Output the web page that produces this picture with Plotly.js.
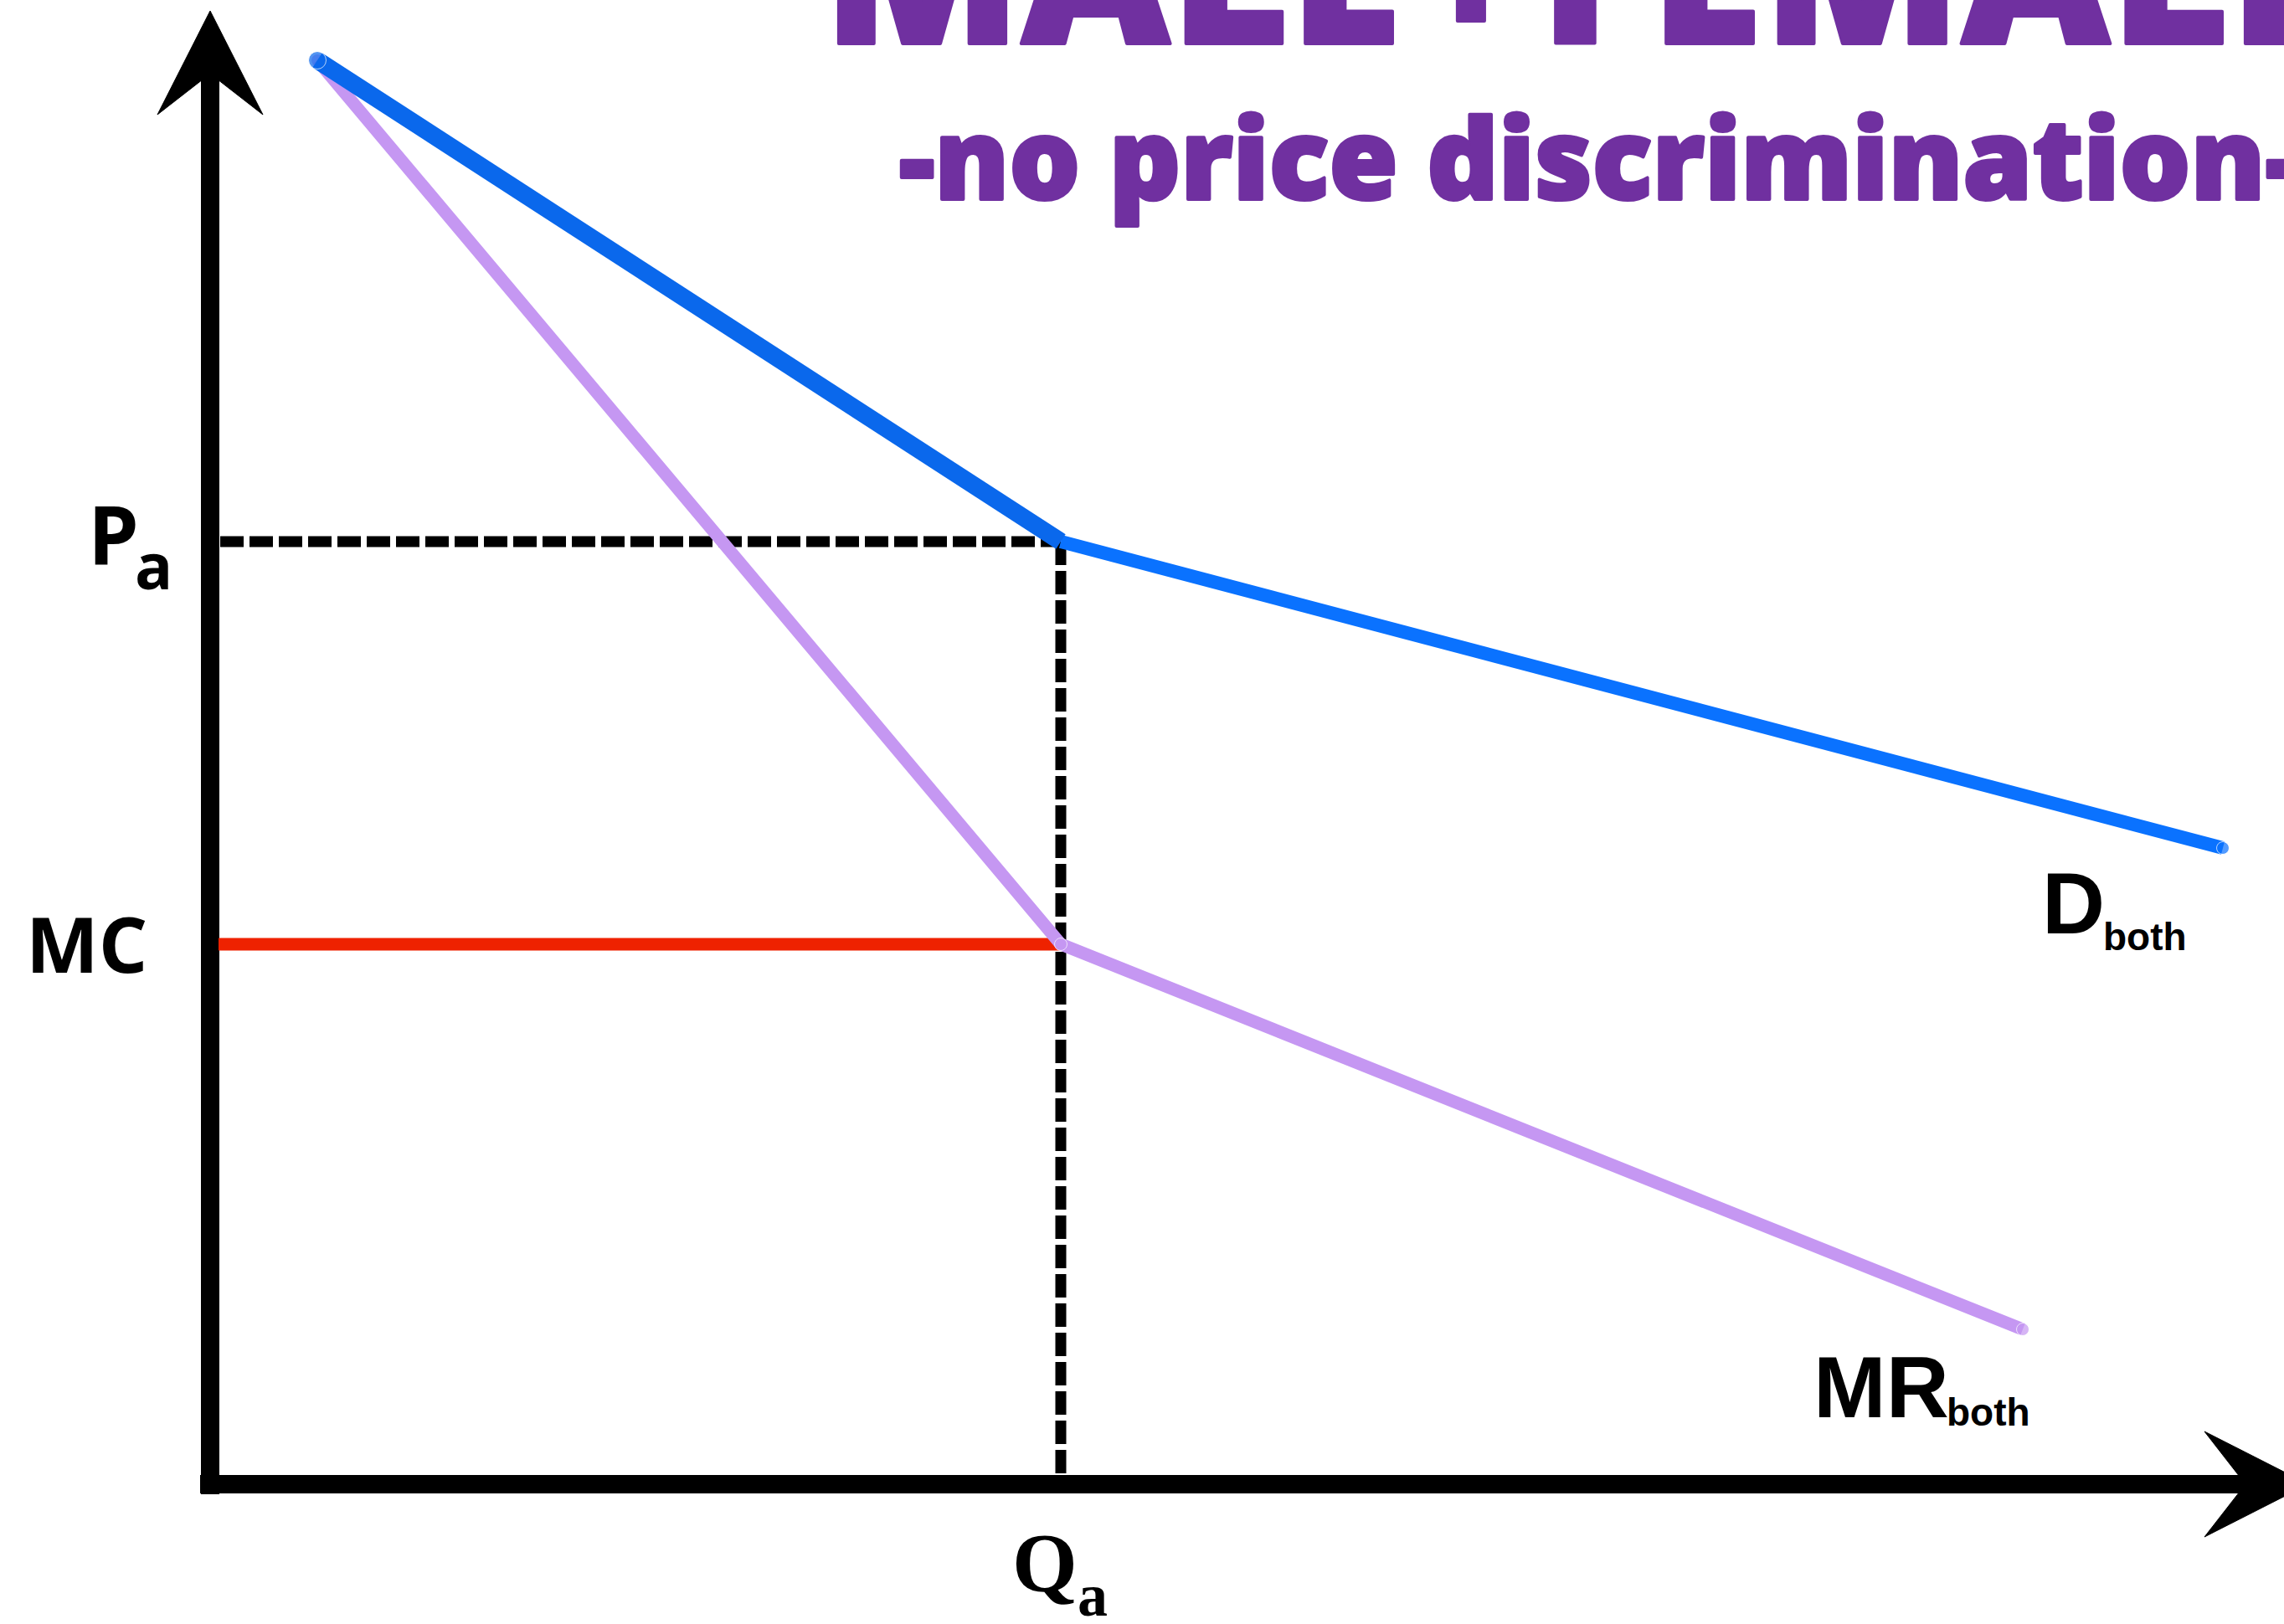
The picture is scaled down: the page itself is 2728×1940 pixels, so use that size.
<!DOCTYPE html>
<html>
<head>
<meta charset="utf-8">
<script src="https://cdn.plot.ly/plotly-3.0.1.min.js"></script>
<style>
html,body{margin:0;padding:0;background:#fff;}
#chart{width:2728px;height:1940px;}
g.annotation[data-index="0"] text, g.annotation[data-index="1"] text {
  stroke:#7030a0; stroke-width:4px; stroke-linejoin:round; paint-order:stroke;
}
</style>
</head>
<body>
<div id="chart"></div>
<script>
// ---- chart values (arbitrary economic units) ----
const demandQ = [1.28, 10.16, 24.04];
const demandP = [17.01, 11.26, 7.60];
const mrQ = [1.28, 10.16, 21.65];
const mrP = [17.01, 6.45, 1.85];
const Pa = 11.26;
const Qa = 10.16;
const MC = 6.45;
const axisStart = -0.12;
const xAxisTip = 25.06;
const yAxisTip = 17.60;

const titleWords = ["MALE", "+", "FEMALE"];
const subtitleText = "-no price discrimination-";
const curveLabels = {D: "D", MR: "MR", sub: "both"};
const axisLabels = {P: "P", MC: "MC", Q: "Q", sub: "a"};

// ---- styles ----
const BLUE_TOP = "#0a68ec";
const BLUE_LOW = "#0a72ff";
const LAV = "#c597f2";
const RED = "#ee2200";
const PURPLE = "#7030a0";

const headLen = 1.24, headHalf = 0.63, headNotch = 0.75;

function arrowHead(tipX, tipY, dir) {
  if (dir === 'up') {
    return {
      x: [tipX, tipX + headHalf, tipX, tipX - headHalf, tipX],
      y: [tipY, tipY - headLen, tipY - headNotch, tipY - headLen, tipY]
    };
  }
  return {
    x: [tipX, tipX - headLen, tipX - headNotch, tipX - headLen, tipX],
    y: [tipY, tipY + headHalf, tipY, tipY - headHalf, tipY]
  };
}
const upHead = arrowHead(0, yAxisTip, 'up');
const rightHead = arrowHead(xAxisTip, 0, 'right');

const DASH = '28px,7px';

const traces = [
  // axes
  {x: [0, 0], y: [axisStart, yAxisTip - headNotch + 0.05], mode: 'lines',
   line: {color: '#000', width: 22}, hoverinfo: 'skip'},
  {x: [axisStart, xAxisTip - headNotch + 0.05], y: [0, 0], mode: 'lines',
   line: {color: '#000', width: 22}, hoverinfo: 'skip'},
  {x: upHead.x, y: upHead.y, mode: 'lines', fill: 'toself', fillcolor: '#000',
   line: {color: '#000', width: 1}, hoverinfo: 'skip'},
  {x: rightHead.x, y: rightHead.y, mode: 'lines', fill: 'toself', fillcolor: '#000',
   line: {color: '#000', width: 1}, hoverinfo: 'skip'},
  // dashed guides
  {x: [0.12, Qa], y: [Pa, Pa], mode: 'lines',
   line: {color: '#000', width: 13, dash: DASH}, hoverinfo: 'skip'},
  {x: [Qa, Qa], y: [Pa, 0.1], mode: 'lines',
   line: {color: '#000', width: 13, dash: DASH}, hoverinfo: 'skip'},
  // MC
  {x: [0.1, Qa], y: [MC, MC], mode: 'lines',
   line: {color: RED, width: 15}, hoverinfo: 'skip'},
  // MR
  {x: mrQ, y: mrP, mode: 'lines+markers',
   line: {color: LAV, width: 15},
   marker: {color: LAV, size: [15, 15, 15]}, hoverinfo: 'skip'},
  // Demand (two segments with different widths)
  {x: demandQ.slice(1), y: demandP.slice(1), mode: 'lines+markers',
   line: {color: BLUE_LOW, width: 16},
   marker: {color: BLUE_LOW, size: [0, 15]}, hoverinfo: 'skip'},
  {x: demandQ.slice(0, 2), y: demandP.slice(0, 2), mode: 'lines+markers',
   line: {color: BLUE_TOP, width: 21},
   marker: {color: BLUE_TOP, size: [21, 0]}, hoverinfo: 'skip'}
];

const sansBold = {family: 'Open Sans, Liberation Sans, sans-serif', color: '#000', weight: 700};
const narrowBold = {family: 'Liberation Sans Narrow, Liberation Sans, Arial, sans-serif', color: '#000', weight: 700};
const serifBold = {family: 'Liberation Serif, DejaVu Serif, serif', color: '#000', weight: 700};

function ann(text, x, y, font, size, xanchor) {
  return {text: text, x: x, y: y, xref: 'x', yref: 'y',
    showarrow: false, xanchor: xanchor, yanchor: 'middle',
    font: Object.assign({}, font, {size: size})};
}

const thinSpace = '<span style="font-size:40px"> </span>';
const titleHTML = titleWords.join(thinSpace);

const annotations = [
  // title
  {text: titleHTML, x: 0.3595, y: 1.0222, xref: 'paper', yref: 'paper', showarrow: false,
   xanchor: 'left', yanchor: 'middle',
   font: {family: 'Open Sans, sans-serif', size: 245, color: PURPLE, weight: 800}},
  {text: subtitleText, x: 0.393, y: 0.9038, xref: 'paper', yref: 'paper', showarrow: false,
   xanchor: 'left', yanchor: 'middle',
   font: {family: 'Open Sans, sans-serif', size: 133, color: PURPLE, weight: 800}},
  // axis labels
  ann(axisLabels.P, -1.48, 11.36, sansBold, 97, 'left'),
  ann(axisLabels.sub, -0.92, 10.98, sansBold, 75, 'left'),
  ann(axisLabels.MC, -1.48, 6.47, sansBold, 92, 'center'),
  ann(axisLabels.Q, 9.97, -0.93, serifBold, 100, 'center'),
  ann(axisLabels.sub, 10.34, -1.33, serifBold, 72, 'left'),
  // curve labels
  ann(curveLabels.D, 21.86, 6.94, narrowBold, 104, 'left'),
  ann(curveLabels.sub, 22.59, 6.54, narrowBold, 46, 'left'),
  ann(curveLabels.MR, 19.13, 1.16, narrowBold, 104, 'left'),
  ann(curveLabels.sub, 20.72, 0.86, narrowBold, 46, 'left')
];

const layout = {
  width: 2728, height: 1940,
  margin: {l: 0, r: 0, t: 0, b: 0, pad: 0},
  paper_bgcolor: '#fff', plot_bgcolor: '#fff',
  showlegend: false,
  xaxis: {range: [-2.51, 24.77], visible: false, fixedrange: true},
  yaxis: {range: [-1.67, 17.73], visible: false, fixedrange: true},
  annotations: annotations
};

Plotly.newPlot('chart', traces, layout, {displayModeBar: false, staticPlot: true});
</script>
</body>
</html>
